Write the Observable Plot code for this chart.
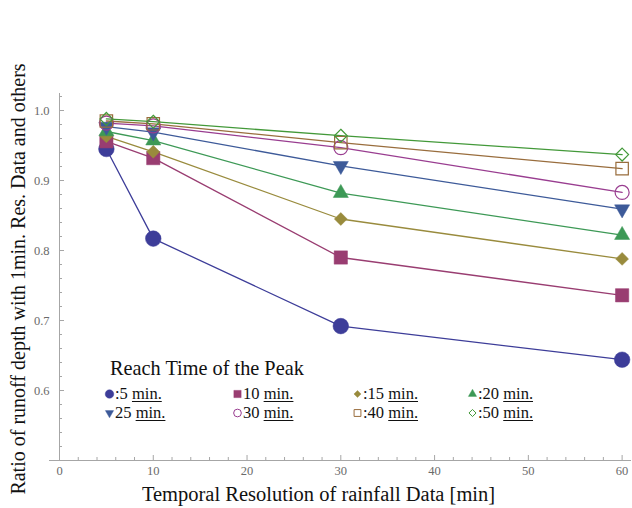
<!DOCTYPE html>
<html><head><meta charset="utf-8">
<script src="https://cdn.jsdelivr.net/npm/d3@7"></script>
<script src="https://cdn.jsdelivr.net/npm/@observablehq/plot@0.6"></script>
<style>
body{margin:0;background:#fff;}
#wrap{position:relative;width:632px;height:508px;font-family:"Liberation Serif","Times New Roman",serif;background:#fff;}
#legend{position:absolute;left:104px;top:357px;color:#111;}
#legend .title{font-size:20.3px;line-height:22px;margin-left:6px;white-space:nowrap;}
#legend .grid{display:grid;grid-template-columns:128px 120px 115px 90px;grid-auto-rows:18.5px;margin-top:6px;}
#legend .item{display:flex;align-items:center;font-size:16.5px;white-space:nowrap;}
#legend .item svg{flex:none;}
#legend u{text-decoration-thickness:1px;text-underline-offset:2px;}
</style></head><body><div id="wrap"></div>
<script>
// ---- data ----
const resolutions = [5, 10, 30, 60];           // temporal resolution [min]
const seriesNames = ["5 min.", "10 min.", "15 min.", "20 min.", "25 min.", "30 min.", "40 min.", "50 min."];
const legendLabels = [":5 min.", "10 min.", ":15 min.", ":20 min.", "25 min.", "30 min.", ":40 min.", ":50 min."];
const ratio5  = [0.945, 0.817, 0.692, 0.644];
const ratio10 = [0.956, 0.932, 0.790, 0.736];
const ratio15 = [0.963, 0.941, 0.845, 0.788];
const ratio20 = [0.970, 0.957, 0.882, 0.822];
const ratio25 = [0.977, 0.969, 0.921, 0.859];
const ratio30 = [0.982, 0.978, 0.947, 0.883];
const ratio40 = [0.985, 0.981, 0.954, 0.917];
const ratio50 = [0.988, 0.984, 0.964, 0.937];
const xMajorTicks = [0, 10, 20, 30, 40, 50, 60];
const yMajorTicks = [0.6, 0.7, 0.8, 0.9, 1.0];
const xLabel = "Temporal Resolution of rainfall Data [min]";
const yLabel = "Ratio of runoff depth with 1min. Res. Data and others";
const legendTitle = "Reach Time of the Peak";

// ---- styles ----
const colors = ["#3d3d99", "#993d71", "#998b3d", "#3d9956", "#3d5a99", "#993d90", "#996d3d", "#439939"];
const downTriangle = {draw(context, size) {
  const y = -Math.sqrt(size / (Math.sqrt(3) * 3));
  context.moveTo(0, -y * 2);
  context.lineTo(-Math.sqrt(3) * y, y);
  context.lineTo(Math.sqrt(3) * y, y);
  context.closePath();
}};
const markers = [
  {symbol: "circle", filled: true, r: 7.8},
  {symbol: "square", filled: true, r: 7.5},
  {symbol: "diamond2", filled: true, r: 5.8},
  {symbol: "triangle", filled: true, r: 5.6},
  {symbol: downTriangle, filled: true, r: 5.6},
  {symbol: "circle", filled: false, r: 7},
  {symbol: "square", filled: false, r: 7},
  {symbol: "diamond2", filled: false, r: 5.8}
];

const seriesValues = [ratio5, ratio10, ratio15, ratio20, ratio25, ratio30, ratio40, ratio50];
const rows = seriesNames.flatMap((name, i) =>
  resolutions.map((x, j) => ({series: name, idx: i, x, y: seriesValues[i][j]})));

const W = 632, H = 508, mT = 93, mB = 48, mL = 59, mR = 1;
const plotW = W - mL - mR, plotH = H - mT - mB;
const xMinor = d3.range(2, 61, 2).filter(v => v % 10 !== 0);
const yMinor = d3.range(0.52, 1.021, 0.02).map(v => +v.toFixed(2)).filter(v => Math.round(v * 100) % 10 !== 0);
const axisColor = "#a6a6a6";

const marks = [
  Plot.ruleX([0], {stroke: axisColor}),
  Plot.ruleY([0.5], {stroke: axisColor, insetLeft: -10}),
  Plot.ruleX(xMajorTicks, {stroke: axisColor, insetTop: plotH - 5}),
  Plot.ruleX(xMinor, {stroke: axisColor, insetTop: plotH - 3}),
  Plot.ruleY(yMajorTicks, {stroke: axisColor, insetRight: plotW - 5}),
  Plot.ruleY(yMinor, {stroke: axisColor, insetRight: plotW - 3}),
  Plot.axisX({ticks: xMajorTicks, tickSize: 0, tickPadding: 6, label: null, fill: "#6a6a6a", fontSize: 12.5}),
  Plot.axisY({ticks: yMajorTicks, tickSize: 0, tickPadding: 10, label: null, tickFormat: d3.format(".1f"), fill: "#6a6a6a", fontSize: 12.5}),
  Plot.text([xLabel], {frameAnchor: "bottom", lineAnchor: "middle", textAnchor: "middle", dx: -27, dy: 34, fontSize: 20.5, fill: "#111"}),
  Plot.text([yLabel], {frameAnchor: "left", lineAnchor: "middle", textAnchor: "middle", rotate: -90, dx: -41, dy: 2, fontSize: 20, fill: "#111"})
];
seriesNames.forEach((name, i) => {
  const d = rows.filter(r => r.idx === i);
  marks.push(Plot.line(d, {x: "x", y: "y", stroke: colors[i], strokeWidth: 1.3}));
});
seriesNames.forEach((name, i) => {
  const d = rows.filter(r => r.idx === i);
  const m = markers[i];
  marks.push(Plot.dot(d, {x: "x", y: "y", symbol: m.symbol, r: m.r,
    fill: m.filled ? colors[i] : "none", stroke: colors[i], strokeWidth: m.filled ? 0.5 : 1.2}));
});

const chart = Plot.plot({
  width: W, height: H,
  marginTop: mT, marginBottom: mB, marginLeft: mL, marginRight: mR,
  x: {domain: [0, 61], axis: null},
  y: {domain: [0.5, 1.0243], axis: null},
  style: {fontFamily: '"Liberation Serif", "Times New Roman", serif', background: "white"},
  marks
});
const wrap = document.getElementById("wrap");
wrap.appendChild(chart);

// ---- legend ----
const leg = document.createElement("div");
leg.id = "legend";
const title = document.createElement("div");
title.className = "title";
title.textContent = legendTitle;
leg.appendChild(title);
const grid = document.createElement("div");
grid.className = "grid";
const symMap = {circle: d3.symbolCircle, square: d3.symbolSquare, diamond2: d3.symbolDiamond2, triangle: d3.symbolTriangle};
legendLabels.forEach((lab, i) => {
  const m = markers[i];
  const item = document.createElement("div");
  item.className = "item";
  const s = typeof m.symbol === "string" ? symMap[m.symbol] : m.symbol;
  const rr = m.r * 0.55;
  const path = d3.symbol(s, rr * rr * Math.PI)();
  item.innerHTML = `<svg width="11" height="12" viewBox="-5.5 -6 11 12"><path d="${path}" fill="${m.filled ? colors[i] : "none"}" stroke="${colors[i]}" stroke-width="${m.filled ? 0.4 : 1}"/></svg>` +
    `<span>${lab.replace("min.", "<u>min.</u>")}</span>`;
  grid.appendChild(item);
});
leg.appendChild(grid);
wrap.appendChild(leg);
</script></body></html>
